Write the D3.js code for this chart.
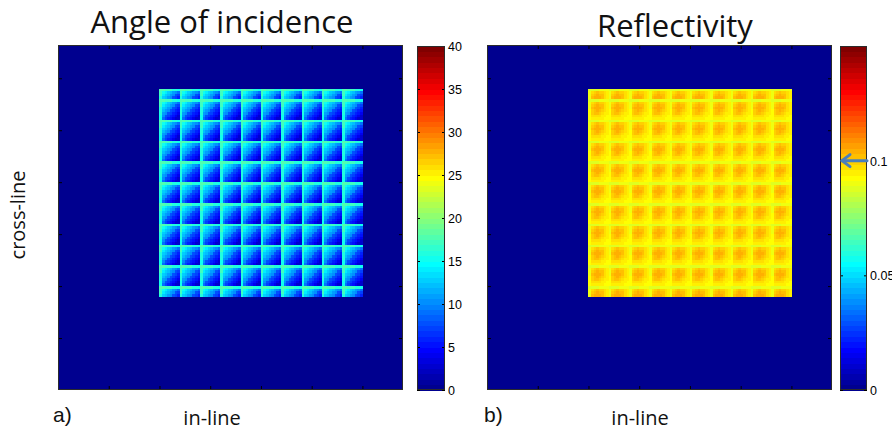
<!DOCTYPE html>
<html><head><meta charset="utf-8">
<script src="https://cdn.jsdelivr.net/npm/d3@7"></script>
<style>body{margin:0;background:#fff} svg{display:block}</style>
</head><body>
<svg id="c" width="892" height="433"></svg>
<script>
// ---------------- data ----------------
const titles = ["Angle of incidence", "Reflectivity"];
const panelLabels = ["a)", "b)"];
const xLabel = "in-line";
const yLabel = "cross-line";
const axisTicks = [50, 100, 150, 200, 250, 300];
const xDomain = [0, 340];
const yDomain = [0, 332];
const angleTicks = [0, 5, 10, 15, 20, 25, 30, 35, 40];
const reflTicks = [0, 0.05, 0.1];
const angleRange = [0, 40];
const reflRange = [0, 0.15];
const backgroundValue = [0, 0];
const arrowValue = 0.1;
// facet grid (in-line / cross-line units)
const facetCols = 10;
const facetX0 = 100;
const facetSize = 20;
const facetTop = 290;
const facetBottom = 90;
const facetTopPartialRows = 4;   // top strip is half a facet
// values inside one facet, rows top->bottom, cols left->right
const facetAngle = [
  [18, 18, 17, 17, 17, 16, 16, 15],
  [17, 15, 14, 13, 12, 11, 10,  9],
  [17, 14, 13, 12, 11, 10,  8,  7],
  [16, 13, 12, 11, 10,  8,  7,  6],
  [16, 12, 11, 10,  8,  7,  6,  5],
  [16, 11, 10,  8,  7,  6,  5,  4],
  [15, 10,  8,  7,  6,  5,  4,  3],
  [15,  9,  7,  6,  5,  4,  3,  3]
];
const facetRefl = [
  [0.088, 0.088, 0.089, 0.089, 0.090, 0.090, 0.091, 0.091],
  [0.090, 0.098, 0.100, 0.101, 0.100, 0.099, 0.097, 0.095],
  [0.091, 0.100, 0.103, 0.104, 0.103, 0.101, 0.098, 0.096],
  [0.091, 0.101, 0.104, 0.105, 0.104, 0.101, 0.098, 0.096],
  [0.092, 0.100, 0.103, 0.104, 0.102, 0.100, 0.097, 0.095],
  [0.092, 0.099, 0.101, 0.101, 0.100, 0.098, 0.096, 0.094],
  [0.092, 0.097, 0.098, 0.098, 0.097, 0.096, 0.094, 0.093],
  [0.092, 0.095, 0.096, 0.096, 0.095, 0.094, 0.093, 0.093]
];

// ---------------- jet(64) colormap ----------------
function jet(m) {
  const n = Math.ceil(m / 4);
  const u = [];
  for (let i = 1; i <= n; i++) u.push(i / n);
  for (let i = 1; i < n; i++) u.push(1);
  for (let i = n; i >= 1; i--) u.push(i / n);
  const g0 = Math.ceil(n / 2) - (m % 4 === 1 ? 1 : 0);
  const J = d3.range(m).map(() => [0, 0, 0]);
  u.forEach((val, i) => {
    const g = g0 + i + 1, r = g + n, b = g - n;
    if (r <= m) J[r - 1][0] = val;
    if (g <= m) J[g - 1][1] = val;
    if (b >= 1 && b <= m) J[b - 1][2] = val;
  });
  return J.map(c => d3.rgb(c[0] * 255, c[1] * 255, c[2] * 255).formatHex());
}
const jet64 = jet(64);

// ---------------- layout ----------------
const svg = d3.select("#c");
const panels = [
  { x0: 58, x1: 403, cb: [417, 445], range: angleRange, ticks: angleTicks, pattern: facetAngle,
    fmt: d => String(d), titleX: 222, titleY: 33, labX: 53, xLabX: 212, bg: backgroundValue[0] },
  { x0: 487, x1: 832, cb: [840, 867], range: reflRange, ticks: reflTicks, pattern: facetRefl,
    fmt: d => (d === 0 ? "0" : String(d)), titleX: 675, titleY: 37, labX: 484, xLabX: 640, bg: backgroundValue[1] }
];
const yTop = 45, yBot = 390;
const cbTop = 46, cbBot = 390;

panels.forEach((p, pi) => {
  const xs = d3.scaleLinear().domain(xDomain).range([p.x0, p.x1]);
  const ys = d3.scaleLinear().domain(yDomain).range([yBot, yTop]);
  const color = d3.scaleQuantize().domain(p.range).range(jet64);
  const g = svg.append("g");

  // background
  g.append("rect").attr("x", p.x0).attr("y", yTop).attr("width", p.x1 - p.x0).attr("height", yBot - yTop)
    .attr("fill", color(p.bg));

  // facet samples
  const nS = p.pattern.length;
  const step = facetSize / nS;
  const cells = [];
  const totalRows = Math.round((facetTop - facetBottom) / step);
  for (let k = 0; k < totalRows; k++) {
    const ri = k < facetTopPartialRows ? k : (k - facetTopPartialRows) % nS;
    const yv = facetTop - k * step;
    for (let c = 0; c < facetCols; c++) {
      for (let j = 0; j < nS; j++) {
        cells.push({ x: facetX0 + c * facetSize + j * step, y: yv, v: p.pattern[ri][j] });
      }
    }
  }
  const w = xs(step) - xs(0), h = ys(0) - ys(step);
  g.append("g").attr("shape-rendering", "crispEdges").selectAll("rect").data(cells).join("rect")
    .attr("x", d => xs(d.x)).attr("y", d => ys(d.y))
    .attr("width", w + 0.6).attr("height", h + 0.6)
    .attr("fill", d => color(d.v));

  // ticks (inside)
  const tickStyle = sel => { sel.select(".domain").remove(); sel.selectAll("line").attr("stroke", "#000"); sel.selectAll("text").remove(); };
  g.append("g").attr("transform", `translate(0,${yBot})`)
    .call(d3.axisBottom(xs).tickValues(axisTicks).tickSize(-4).tickFormat("")).call(tickStyle);
  g.append("g").attr("transform", `translate(0,${yTop})`)
    .call(d3.axisTop(xs).tickValues(axisTicks).tickSize(-4).tickFormat("")).call(tickStyle);
  g.append("g").attr("transform", `translate(${p.x0},0)`)
    .call(d3.axisLeft(ys).tickValues(axisTicks).tickSize(-4).tickFormat("")).call(tickStyle);
  g.append("g").attr("transform", `translate(${p.x1},0)`)
    .call(d3.axisRight(ys).tickValues(axisTicks).tickSize(-4).tickFormat("")).call(tickStyle);

  // border
  g.append("rect").attr("x", p.x0 + 0.5).attr("y", yTop + 0.5).attr("width", p.x1 - p.x0 - 1).attr("height", yBot - yTop - 1)
    .attr("fill", "none").attr("stroke", "#2b2b2b").attr("stroke-width", 1);

  // colorbar
  const cs = d3.scaleLinear().domain(p.range).range([cbBot, cbTop]);
  const bands = d3.range(64).map(i => ({ lo: p.range[0] + (p.range[1] - p.range[0]) * i / 64,
                                          hi: p.range[0] + (p.range[1] - p.range[0]) * (i + 1) / 64, c: jet64[i] }));
  g.append("g").attr("shape-rendering", "crispEdges").selectAll("rect").data(bands).join("rect")
    .attr("x", p.cb[0]).attr("width", p.cb[1] - p.cb[0])
    .attr("y", d => cs(d.hi)).attr("height", d => cs(d.lo) - cs(d.hi) + 0.6)
    .attr("fill", d => d.c);
  g.append("g").attr("transform", `translate(${p.cb[0]},0)`)
    .call(d3.axisLeft(cs).tickValues(p.ticks).tickSize(-3).tickFormat("")).call(tickStyle);
  const ra = g.append("g").attr("transform", `translate(${p.cb[1]},0)`)
    .call(d3.axisRight(cs).tickValues(p.ticks).tickSize(-3).tickFormat(p.fmt));
  ra.select(".domain").remove();
  ra.selectAll("line").attr("stroke", "#000");
  ra.selectAll("text").attr("x", 3).attr("dy", "0.35em")
    .style("font-family", "'Liberation Sans', Arial, sans-serif").style("font-size", "12.5px").attr("fill", "#000");
  g.append("rect").attr("x", p.cb[0] + 0.5).attr("y", cbTop + 0.5).attr("width", p.cb[1] - p.cb[0] - 1).attr("height", cbBot - cbTop - 1)
    .attr("fill", "none").attr("stroke", "#2b2b2b");

  // title
  g.append("text").attr("x", p.titleX).attr("y", p.titleY).attr("text-anchor", "middle")
    .style("font-family", "'Open Sans', sans-serif").style("font-size", "31px").attr("fill", "#111").text(titles[pi]);
  // panel label
  g.append("text").attr("x", p.labX).attr("y", 422)
    .style("font-family", "'Liberation Sans', Arial, sans-serif").style("font-size", "21px").attr("fill", "#111").text(panelLabels[pi]);
  // x label
  g.append("text").attr("x", p.xLabX).attr("y", 425).attr("text-anchor", "middle")
    .style("font-family", "'Open Sans', sans-serif").style("font-size", "20px").attr("fill", "#111").text(xLabel);

  if (pi === 1) {
    const ay = cs(arrowValue);
    const ag = g.append("g").attr("stroke", "#4a7ebb").attr("stroke-width", 3).attr("fill", "none")
      .attr("stroke-linecap", "round").attr("stroke-linejoin", "round");
    ag.append("line").attr("x1", p.cb[1]).attr("x2", p.cb[0] + 2).attr("y1", ay).attr("y2", ay);
    ag.append("polyline").attr("points", `${p.cb[0] + 10},${ay - 6} ${p.cb[0] + 2},${ay} ${p.cb[0] + 10},${ay + 6}`);
  }
});

// y label
svg.append("text").attr("transform", "translate(25,215) rotate(-90)").attr("text-anchor", "middle")
  .style("font-family", "'Open Sans', sans-serif").style("font-size", "20px").attr("fill", "#111").text(yLabel);
</script>
</body></html>
